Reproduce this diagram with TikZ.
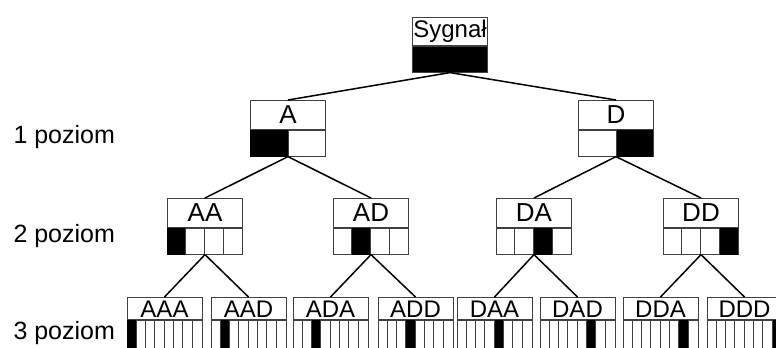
\documentclass[tikz,border=0pt]{standalone}
\usepackage{fontspec}
\setmainfont{Liberation Sans}
\usetikzlibrary{positioning}

\begin{document}
\begin{tikzpicture}[x=1bp, y=-1bp,
  lbl/.style={draw=black!75, line width=0.8bp, minimum width=75bp, inner sep=0pt,
              anchor=north, font=\fontsize{24bp}{28bp}\selectfont},
  big/.style={font=\fontsize{26bp}{28bp}\selectfont},
  bar/.style={draw=black!75, line width=0.8bp, minimum width=75bp, minimum height=26bp,
              inner sep=0pt, below=0pt of #1},
  cell/.style={draw=black!75, line width=0.8bp},
  conn/.style={line width=1.5bp},
  lvl/.style={anchor=base west, font=\fontsize{25bp}{30bp}\selectfont}
]
\useasboundingbox (0,0) rectangle (776,347);
\clip (0,0) rectangle (776,347);
\fill[white] (0,0) rectangle (776,347);

% signal
\node[lbl, minimum height=28bp] (s) at (450,17) {Sygnał};
\node[bar=s, fill=black] (s-r) {};

% level 1
\foreach \nm/\txt/\x/\k in {a/A/288/1, d/D/616/2} {
  \node[lbl, big, minimum height=29bp] (\nm) at (\x,100) {\txt};
  \node[bar=\nm] (\nm-r) {};
  \fill ([xshift={(\k-1)*37.5bp}]\nm-r.north west) rectangle ([xshift={\k*37.5bp}]\nm-r.south west);
  \draw[cell] (\nm-r.north) -- (\nm-r.south);
}

% level 2
\foreach \nm/\txt/\x/\k in {aa/AA/205/1, ad/AD/371/2, da/DA/534/3, dd/DD/701/4} {
  \node[lbl, big, minimum height=29bp] (\nm) at (\x,198) {\txt};
  \node[bar=\nm] (\nm-r) {};
  \fill ([xshift={(\k-1)*18.75bp}]\nm-r.north west) rectangle ([xshift={\k*18.75bp}]\nm-r.south west);
  \foreach \j in {1,2,3}
    \draw[cell] ([xshift=\j*18.75bp]\nm-r.north west) -- ([xshift=\j*18.75bp]\nm-r.south west);
}

% level 3
\foreach \nm/\txt/\x/\k in {aaa/AAA/164.5/1, aad/AAD/248.5/2, ada/ADA/330.5/3, add/ADD/415.5/4,
                            daa/DAA/494.5/5, dad/DAD/577.5/6, dda/DDA/660.5/7, ddd/DDD/744.5/8} {
  \node[lbl, minimum height=22bp, text height=19bp, text depth=0pt] (\nm) at (\x,297) {\txt};
  \node[bar=\nm, minimum height=32bp] (\nm-r) {};
  \fill ([xshift={(\k-1)*9.375bp}]\nm-r.north west) rectangle ([xshift={\k*9.375bp}]\nm-r.south west);
  \foreach \j in {1,...,7}
    \draw[cell] ([xshift=\j*9.375bp]\nm-r.north west) -- ([xshift=\j*9.375bp]\nm-r.south west);
}

% connectors
\foreach \p/\c in {s/a, s/d, a/aa, a/ad, d/da, d/dd, aa/aaa, aa/aad, ad/ada, ad/add,
                   da/daa, da/dad, dd/dda, dd/ddd}
  \draw[conn] (\p-r.south) -- (\c.north);

% level labels
\node[lvl] (p1) at (10,143) {1 poziom};
\node[lvl] (p2) at (10,242) {2 poziom};
\node[lvl] (p3) at (10,339) {3 poziom};
\end{tikzpicture}
\end{document}
